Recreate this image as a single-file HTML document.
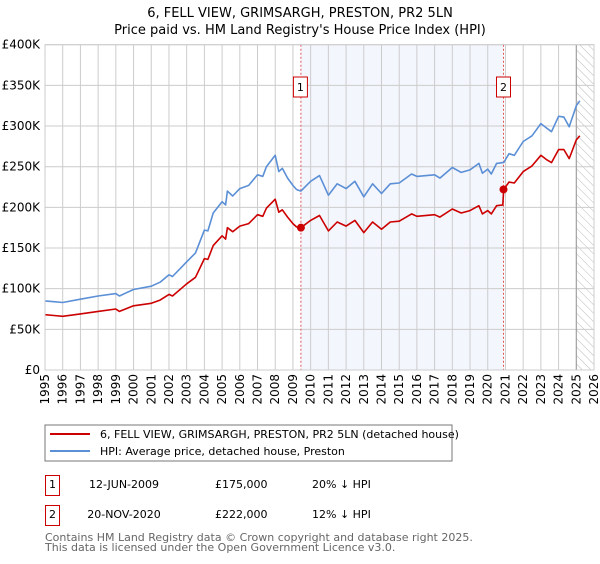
<!DOCTYPE html>
<html><head><meta charset="utf-8"><style>
body{margin:0;background:#fff;font-family:"DejaVu Sans","Liberation Sans",sans-serif;}
svg text{font-family:"DejaVu Sans","Liberation Sans",sans-serif;}
</style></head><body>
<svg id="c" width="600" height="560" xmlns="http://www.w3.org/2000/svg">
<defs><pattern id="hatch" width="6" height="6" patternUnits="userSpaceOnUse" patternTransform="rotate(-45)"><line x1="0" y1="0" x2="0" y2="6" stroke="#bbb" stroke-width="1"/></pattern></defs>
<text x="300" y="17" text-anchor="middle" font-size="13">6, FELL VIEW, GRIMSARGH, PRESTON, PR2 5LN</text>
<text x="300" y="34" text-anchor="middle" font-size="13">Price paid vs. HM Land Registry's House Price Index (HPI)</text>
<g id="plot"></g>
<g>
<rect x="45" y="425" width="407" height="36" fill="#fff" stroke="#777"/>
<line x1="50" y1="434" x2="90" y2="434" stroke="#cc0000" stroke-width="2"/>
<text x="100" y="438" font-size="11">6, FELL VIEW, GRIMSARGH, PRESTON, PR2 5LN (detached house)</text>
<line x1="50" y1="451" x2="90" y2="451" stroke="#5b8fd6" stroke-width="2"/>
<text x="100" y="455" font-size="11">HPI: Average price, detached house, Preston</text>
</g>
<g>
<rect x="45.5" y="475.5" width="14" height="20" fill="none" stroke="#cc0000"/>
<text x="52.5" y="488" text-anchor="middle" font-size="11">1</text>
<text x="124" y="488" text-anchor="middle" font-size="11">12-JUN-2009</text>
<text x="215" y="488" font-size="11">£175,000</text>
<text x="312" y="488" font-size="11">20% ↓ HPI</text>
<rect x="45.5" y="505.5" width="14" height="20" fill="none" stroke="#cc0000"/>
<text x="52.5" y="518" text-anchor="middle" font-size="11">2</text>
<text x="124" y="518" text-anchor="middle" font-size="11">20-NOV-2020</text>
<text x="215" y="518" font-size="11">£222,000</text>
<text x="312" y="518" font-size="11">12% ↓ HPI</text>
</g>
<text x="45" y="541" font-size="11" fill="#666">Contains HM Land Registry data © Crown copyright and database right 2025.</text>
<text x="45" y="551" font-size="11" fill="#666">This data is licensed under the Open Government Licence v3.0.</text>
</svg>
<script>
const hpiYears=[1995,1995.5,1996,1997,1998,1999,1999.2,2000,2001,2001.5,2002,2002.2,2003,2003.5,2004,2004.2,2004.5,2005,2005.2,2005.3,2005.6,2006,2006.5,2007,2007.3,2007.5,2008,2008.2,2008.4,2008.7,2009,2009.2,2009.45,2010,2010.5,2011,2011.5,2012,2012.5,2013,2013.5,2014,2014.5,2015,2015.7,2016,2017,2017.3,2018,2018.5,2019,2019.5,2019.7,2020,2020.2,2020.5,2020.85,2020.9,2021.2,2021.5,2022,2022.5,2023,2023.3,2023.6,2024,2024.3,2024.6,2025,2025.2];
const hpiValues=[85,84,83,87,91,94,91,99,103,108,117,115,133,144,172,171,193,207,203,220,214,223,227,240,238,250,264,244,248,236,227,222,220,232,239,215,229,223,232,213,229,217,229,230,241,238,240,236,249,243,246,254,242,247,241,254,255,255,266,264,281,288,303,298,293,312,311,299,325,331];
const priceValues=[68,67,66,69,72,75,72,79,82,86,93,91,106,114,137,136,153,165,161,175,170,177,180,191,189,199,210,194,197,188,180,176,175,184,190,171,182,177,184,169,182,173,182,183,192,189,191,188,198,193,196,202,192,196,192,202,203,222,231,230,244,251,264,259,255,271,271,260,283,288];
const saleYears=[2009.45,2020.89];
const saleValues=[175,222];
const saleLabels=["1","2"];
const yTicks=[0,50,100,150,200,250,300,350,400];
const xTicks=[1995,1996,1997,1998,1999,2000,2001,2002,2003,2004,2005,2006,2007,2008,2009,2010,2011,2012,2013,2014,2015,2016,2017,2018,2019,2020,2021,2022,2023,2024,2025,2026];

const L=45,R=594,T=44.7,B=370,X0=1995,X1=2026,YMAX=400;
const xs=v=>L+(v-X0)/(X1-X0)*(R-L);
const ys=v=>B-v/YMAX*(B-T);
const NS='http://www.w3.org/2000/svg';
const g=document.getElementById('plot');
function mk(tag,attrs,parent){const e=document.createElementNS(NS,tag);for(const k in attrs)e.setAttribute(k,attrs[k]);(parent||g).appendChild(e);return e;}

let e=mk('rect',{x:xs(saleYears[0]),y:T,width:xs(saleYears[1])-xs(saleYears[0]),height:B-T,fill:'#eef2fc',opacity:0.7});


e=mk('rect',{x:xs(2025),y:T,width:R-xs(2025),height:B-T,fill:'url(#hatch)'});



xTicks.forEach(t=>{
  const l=mk('line',{x1:xs(t),x2:xs(t),y1:T,y2:B,stroke:'#ccc','stroke-width':1});
  
  
  const x=xs(t)+4;
  const tx=mk('text',{x:x,y:374,'font-size':12,'text-anchor':'end',transform:`rotate(-90 ${x} 374)`});
  tx.textContent=t;
  
  
});
yTicks.forEach(t=>{
  const l=mk('line',{x1:L,x2:R,y1:ys(t),y2:ys(t),stroke:'#ccc','stroke-width':1});
  
  
  const tx=mk('text',{x:40,y:ys(t)+4,'font-size':12,'text-anchor':'end'});
  tx.textContent=t===0?'£0':'£'+t+'K';
  
  
});
e=mk('line',{x1:xs(2025),x2:xs(2025),y1:T,y2:B,stroke:'#999','stroke-width':1});



saleYears.forEach((s,i)=>{
  const l=mk('line',{x1:xs(s),x2:xs(s),y1:T,y2:B,stroke:'#e05555','stroke-width':1,'stroke-dasharray':'2,2'});
  
  
});

function path(xv,yv,color,name){
  const d=xv.map((x,i)=>(i?'L':'M')+xs(x).toFixed(1)+','+ys(yv[i]).toFixed(1)).join('');
  const p=mk('path',{d:d,fill:'none',stroke:color,'stroke-width':1.6,'stroke-linejoin':'round'});
  
  
}
path(hpiYears,hpiValues,'#5b8fd6','hpi-line');
path(hpiYears,priceValues,'#cc0000','price-line');

saleYears.forEach((s,i)=>{
  const c=mk('circle',{cx:xs(s),cy:ys(saleValues[i]),r:4,fill:'#cc0000'});
  
  
  const bx=xs(s)-(i===0?7.5:7);
  const r=mk('rect',{x:bx,y:77,width:14,height:20,fill:'#fff',stroke:'#cc0000'});
  
  
  const t=mk('text',{x:bx+7,y:91,'font-size':11,'text-anchor':'middle'});
  t.textContent=saleLabels[i];
  
  
});
e=mk('rect',{x:L,y:T,width:R-L,height:B-T,fill:'none',stroke:'#ccc'});


</script>
</body></html>
